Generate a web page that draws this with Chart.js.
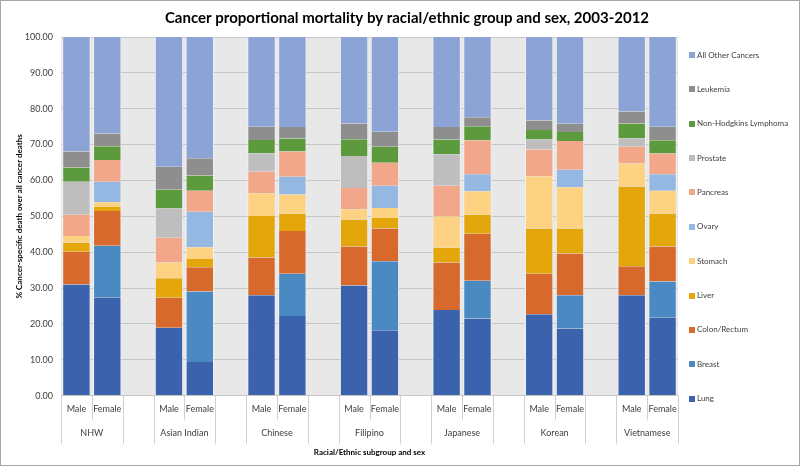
<!DOCTYPE html>
<html>
<head>
<meta charset="utf-8">
<script src="https://cdn.jsdelivr.net/npm/chart.js@4/dist/chart.umd.min.js"></script>
<style>
html, body { margin: 0; padding: 0; background: #fff; }
#wrap { width: 800px; height: 466px; box-sizing: border-box; border: 1px solid #a6a6a6; }
</style>
</head>
<body>
<div id="wrap"><canvas id="myChart"></canvas></div>
<script>
const groups = ['NHW', 'Asian Indian', 'Chinese', 'Filipino', 'Japanese', 'Korean', 'Vietnamese'];
const sexes = ['Male', 'Female'];

// one value per bar: NHW M, NHW F, Asian Indian M, Asian Indian F, ...
const lung = [31.0, 27.3, 18.9, 9.4, 28.0, 22.2, 30.7, 18.2, 23.9, 21.5, 22.7, 18.7, 28.0, 21.7];
const breast = [0, 14.5, 0, 19.6, 0, 11.8, 0, 19.3, 0, 10.5, 0, 9.3, 0, 10.1];
const colon = [9.1, 9.7, 8.4, 6.8, 10.5, 11.9, 10.9, 9.1, 13.2, 13.1, 11.3, 11.6, 8.1, 9.8];
const liver = [2.5, 1.1, 5.4, 2.3, 11.6, 4.8, 7.5, 2.9, 4.1, 5.3, 12.6, 7.0, 22.2, 9.2];
const stomach = [1.9, 1.3, 4.4, 3.3, 6.3, 5.4, 2.9, 2.8, 8.8, 6.6, 14.6, 11.5, 6.4, 6.3];
const ovary = [0, 5.7, 0, 9.9, 0, 4.9, 0, 6.2, 0, 4.7, 0, 4.9, 0, 4.6];
const pancreas = [5.9, 6.1, 6.9, 5.8, 6.1, 7.1, 5.9, 6.4, 8.5, 9.5, 7.4, 8.0, 4.7, 5.8];
const prostate = [9.2, 0, 8.2, 0, 5.1, 0, 8.9, 0, 8.8, 0, 2.8, 0, 2.4, 0];
const nhl = [4.0, 3.8, 5.2, 4.3, 3.7, 3.6, 4.7, 4.5, 4.1, 3.9, 2.7, 2.5, 4.1, 3.7];
const leukemia = [4.5, 3.6, 6.4, 4.8, 3.7, 3.2, 4.4, 4.2, 3.5, 2.5, 2.6, 2.3, 3.3, 3.8];
const otherCancers = [31.9, 26.9, 36.2, 33.8, 25.0, 25.1, 24.1, 26.4, 25.1, 22.4, 23.3, 24.2, 20.8, 25.0];

const FONT = 'Lato, "Open Sans", sans-serif';
Chart.defaults.font.family = FONT;

// spread the 14 bars over slots, with an empty slot between groups
const labels = [];
groups.forEach(function (g, i) {
    labels.push(sexes[0], sexes[1]);
    if (i < groups.length - 1) labels.push('');
});
function toSlots(arr) {
    const out = [];
    groups.forEach(function (g, i) {
        out.push(arr[i * 2] || null, arr[i * 2 + 1] || null);
        if (i < groups.length - 1) out.push(null);
    });
    return out;
}

const series = [
    ['Lung', lung, '#3b63ad'],
    ['Breast', breast, '#4a89c1'],
    ['Colon/Rectum', colon, '#d6692b'],
    ['Liver', liver, '#e3a70b'],
    ['Stomach', stomach, '#fdd283'],
    ['Ovary', ovary, '#95b8e2'],
    ['Pancreas', pancreas, '#f2a68a'],
    ['Prostate', prostate, '#bebebe'],
    ['Non-Hodgkins Lymphoma', nhl, '#5c9a3d'],
    ['Leukemia', leukemia, '#8e8e8e'],
    ['All Other Cancers', otherCancers, '#8ca3d6']
];

const groupAxis = {
    id: 'groupAxis',
    beforeDraw: function (chart) {
        const a = chart.chartArea;
        const ctx = chart.ctx;
        ctx.save();
        ctx.fillStyle = '#e8e8e8';
        ctx.fillRect(a.left, a.top, a.right - a.left, a.bottom - a.top);
        ctx.restore();
    },
    afterDraw: function (chart) {
        const x = chart.scales.x;
        const a = chart.chartArea;
        const ctx = chart.ctx;
        const half = (x.getPixelForValue(1) - x.getPixelForValue(0)) / 2;
        ctx.save();
        // separators under the category axis
        ctx.strokeStyle = '#d0d0d0';
        ctx.lineWidth = 1;
        for (let b = 0; b <= labels.length; b++) {
            const px = Math.round(x.getPixelForValue(b) - half) + 0.5;
            const len = b % 3 === 1 ? 24 : 48;
            ctx.beginPath();
            ctx.moveTo(px, a.bottom);
            ctx.lineTo(px, a.bottom + len);
            ctx.stroke();
        }
        // group names
        ctx.fillStyle = '#404040';
        ctx.font = '9px ' + FONT;
        ctx.textAlign = 'center';
        ctx.textBaseline = 'middle';
        groups.forEach(function (g, i) {
            const cx = (x.getPixelForValue(i * 3) + x.getPixelForValue(i * 3 + 1)) / 2;
            ctx.fillText(g, cx, a.bottom + 37);
        });
        // legend, reversed like the stack
        const items = chart.data.datasets.slice().reverse();
        const y0 = a.top + 18;
        const step = (a.bottom + 3 - y0) / (items.length - 1);
        ctx.textAlign = 'left';
        ctx.font = '8px ' + FONT;
        items.forEach(function (ds, i) {
            const cy = y0 + i * step;
            ctx.fillStyle = ds.backgroundColor;
            ctx.fillRect(a.right + 11, Math.round(cy) - 3, 6, 6);
            ctx.fillStyle = '#404040';
            ctx.fillText(ds.label, a.right + 19, cy);
        });
        ctx.restore();
    }
};

const config = {
    type: 'bar',
    data: {
        labels: labels,
        datasets: series.map(function (s) {
            return {
                label: s[0],
                data: toSlots(s[1]),
                backgroundColor: s[2],
                borderColor: '#f2f2f2',
                borderWidth: { left: 1, right: 1, top: 0, bottom: 0 },
                borderSkipped: false,
                barPercentage: 0.92,
                categoryPercentage: 1
            };
        })
    },
    options: {
        responsive: true,
        maintainAspectRatio: false,
        animation: false,
        layout: { padding: { left: 14, right: 0, top: 0, bottom: 6 } },
        plugins: {
            title: {
                display: true,
                text: 'Cancer proportional mortality by racial/ethnic group and sex, 2003-2012',
                color: '#000',
                font: { size: 15, weight: 'bold' },
                padding: { top: 8, bottom: 10 }
            },
            legend: { display: false },
            tooltip: { enabled: false }
        },
        scales: {
            x: {
                stacked: true,
                grid: { display: false, drawTicks: false },
                border: { display: false },
                ticks: { autoSkip: false, maxRotation: 0, padding: 8, color: '#404040', font: { size: 9 } },
                title: {
                    display: true,
                    text: 'Racial/Ethnic subgroup and sex',
                    color: '#000',
                    font: { size: 8, weight: 'bold' },
                    padding: { top: 25, bottom: 2 }
                }
            },
            y: {
                stacked: true,
                min: 0,
                max: 100,
                afterFit: function (scale) { scale.width = 46; },
                ticks: {
                    stepSize: 10,
                    padding: 8,
                    color: '#404040',
                    font: { size: 9 },
                    callback: function (v) { return v.toFixed(2); }
                },
                grid: { color: '#c6c6c6', drawTicks: false },
                border: { display: false },
                title: {
                    display: true,
                    text: '% Cancer-specific death over all cancer deaths',
                    color: '#000',
                    font: { size: 8, weight: 'bold' },
                    padding: { top: 0, bottom: 0 }
                }
            },
            // room on the right for the legend
            legendSpace: {
                type: 'linear',
                position: 'right',
                afterFit: function (scale) { scale.width = 121; },
                ticks: { display: false },
                grid: { display: false },
                border: { display: false }
            }
        }
    },
    plugins: [groupAxis]
};

new Chart(document.getElementById('myChart'), config);
</script>
</body>
</html>
